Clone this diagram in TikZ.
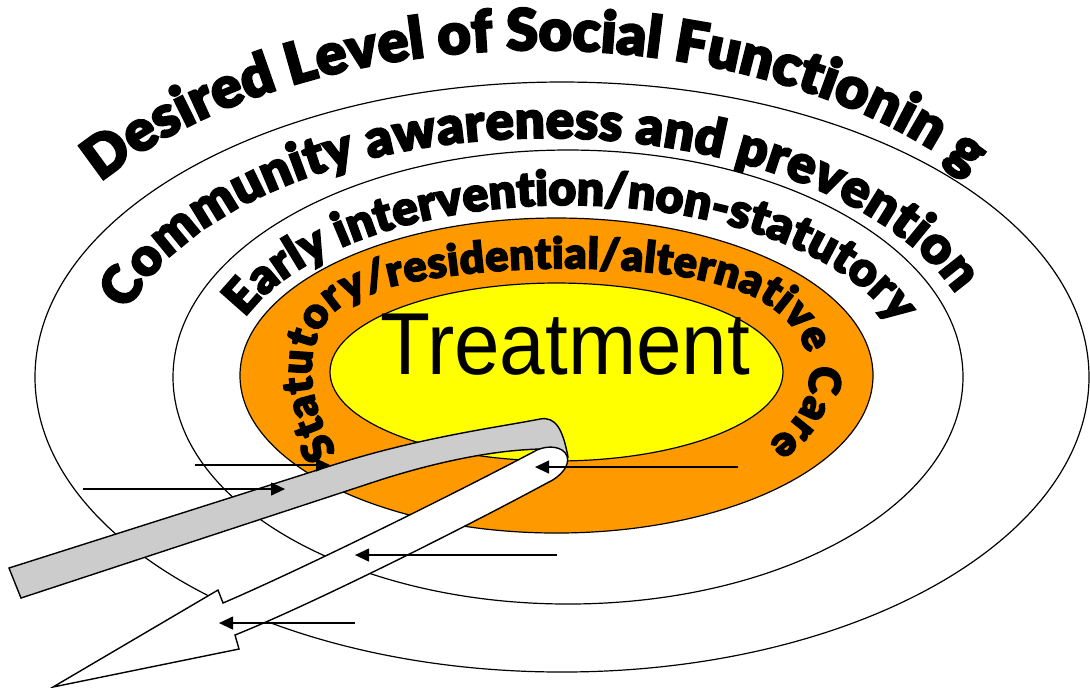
\documentclass[tikz,border=0pt]{standalone}
\usepackage{fontspec}
\usetikzlibrary{decorations.text,arrows.meta}
\IfFontExistsTF{Lato Black}{\newfontfamily\heavyfont{Lato Black}[FakeBold=3.5]}{\newfontfamily\heavyfont{Liberation Sans Bold}[FakeBold=3.5]}
\newfontfamily\arialfont{Liberation Sans}
\definecolor{orangeC}{HTML}{FF9900}
\definecolor{yellowC}{HTML}{FFFF00}
\definecolor{greyband}{HTML}{CCCCCC}
\begin{document}
\begin{tikzpicture}[x=1pt,y=1pt,scale=0.1,
  ring/.style={draw=black,line width=0.12pt},
  band/.style={draw=black,line width=0.14pt,line join=miter},
  smallarrow/.style={draw=black,line width=0.12pt,-{Triangle[length=1.4pt,width=1.3pt]}},
  arctext/.style={decorate,decoration={text along path,text align=fit to path,text={#1}}}]
\useasboundingbox (0,0) rectangle (1090,-687);
\fill[white] (0,0) rectangle (1090,-687);

% rings
\draw[ring] (562,-377) ellipse[x radius=527pt,y radius=295pt];
\draw[ring] (568,-377) ellipse[x radius=395pt,y radius=227pt];
\draw[ring,fill=orangeC] (556.5,-375.5) ellipse[x radius=316.5pt,y radius=157.5pt];
\draw[ring,fill=yellowC] (556.5,-372) ellipse[x radius=226.5pt,y radius=89pt];

% arc texts
\path[arctext={|\heavyfont\fontsize{5.75}{6.2}\selectfont|Desired Level of Social Functionin g}]
  ([shift={(539,-371)}]144:542pt and 321pt) arc[start angle=144,end angle=38.6,x radius=542pt,y radius=321pt];
\path[arctext={|\heavyfont\fontsize{5.25}{5.6}\selectfont|Community awareness and prevention}]
  ([shift={(547,-377)}]164:436pt and 239pt) arc[start angle=164,end angle=20.3,x radius=436pt,y radius=239pt];
\path[arctext={|\heavyfont\fontsize{4.8}{5.2}\selectfont|Early intervention/non-statutory}]
  ([shift={(567.6,-377)}]159.9:343.6pt and 172pt) arc[start angle=159.9,end angle=17.6,x radius=343.6pt,y radius=172pt];
\path[arctext={|\heavyfont\fontsize{4.3}{4.7}\selectfont|Statutory/residential/alternative Care}]
  (337,-452) .. controls (300,-390) and (300,-320) .. (360,-296)
  .. controls (450,-262) and (680,-255) .. (760,-300)
  .. controls (830,-340) and (820,-410) .. (768,-442);

\node[anchor=base,inner sep=0pt] (treat) at (565,-374)
  {\scalebox{0.93}[1]{\arialfont\fontsize{8.8}{8.8}\selectfont Treatment}};

% grey band (back of ribbon)
\draw[band,fill=greyband] (9,-568) -- (330,-466)
  .. controls (420,-437) and (500,-427) .. (540,-419)
  .. controls (556,-416) and (563,-430) .. (568,-457)
  -- (546,-462) -- (541,-449)
  .. controls (490,-450) and (430,-464) .. (380,-480)
  -- (21,-598) -- cycle;

% white band with arrow head
\draw[band,fill=white] (537,-450)
  .. controls (450,-496) and (300,-570) .. (223,-603)
  -- (218,-590) -- (53,-687) -- (239,-649) -- (235,-635)
  .. controls (310,-605) and (460,-530) .. (547,-483)
  .. controls (562,-476) and (570,-465) .. (567,-456)
  .. controls (563,-446) and (548,-445) .. (537,-450) -- cycle;

% small arrows
\coordinate (a1s) at (195,-465); \coordinate (a1e) at (330,-465);
\coordinate (a2s) at (83,-489);  \coordinate (a2e) at (285,-489);
\coordinate (a3s) at (738,-467); \coordinate (a3e) at (535,-467);
\coordinate (a4s) at (557,-555); \coordinate (a4e) at (355,-555);
\coordinate (a5s) at (355,-623); \coordinate (a5e) at (219,-623);
\draw[smallarrow] (a1s) -- (a1e);
\draw[smallarrow] (a2s) -- (a2e);
\draw[smallarrow] (a3s) -- (a3e);
\draw[smallarrow] (a4s) -- (a4e);
\draw[smallarrow] (a5s) -- (a5e);
\end{tikzpicture}
\end{document}
